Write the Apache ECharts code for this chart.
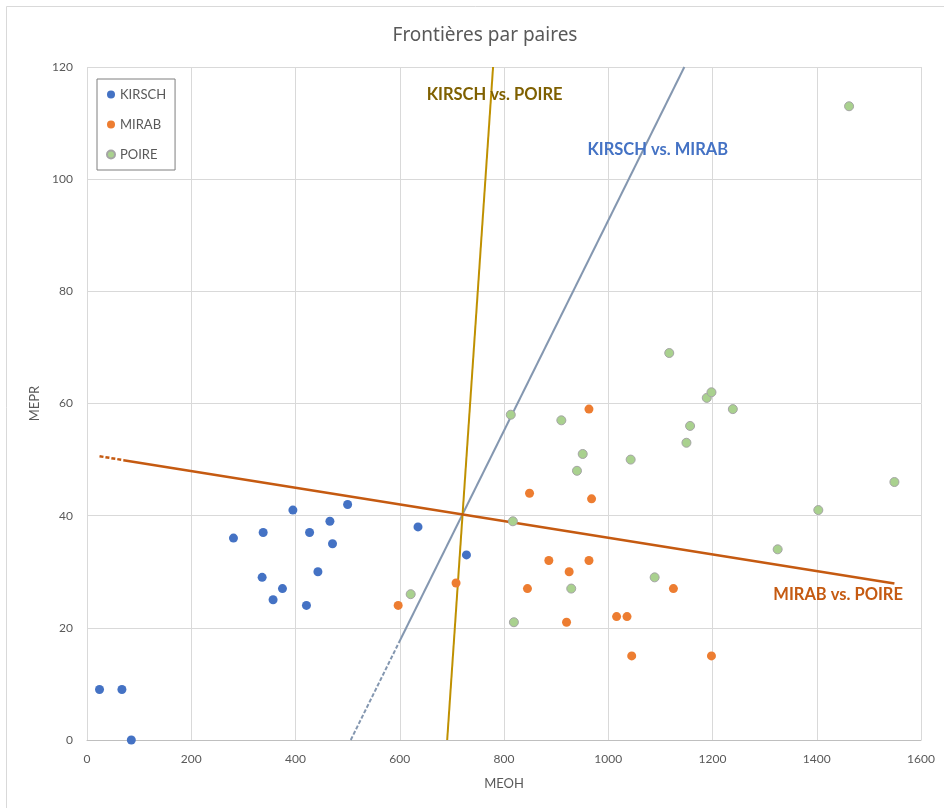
<!DOCTYPE html>
<html>
<head>
<meta charset="utf-8">
<script src="https://cdn.jsdelivr.net/npm/echarts@6/dist/echarts.min.js"></script>
<style>
  html, body { margin: 0; padding: 0; background: #ffffff; }
  #chart { width: 944px; height: 808px; }
</style>
</head>
<body>
<div id="chart"></div>
<script>
// Brandy samples: methanol (MEOH) vs propanol (MEPR) per class
const kirschMEOH = [24, 67, 85, 281, 338, 336, 357, 375, 395, 427, 421, 443, 466, 471, 500, 635, 728];
const kirschMEPR = [9, 9, 0, 36, 37, 29, 25, 27, 41, 37, 24, 30, 39, 35, 42, 38, 33];

const mirabMEOH = [597, 708, 849, 963, 968, 886, 925, 963, 845, 920, 1016, 1036, 1125, 1045, 1198];
const mirabMEPR = [24, 28, 44, 59, 43, 32, 30, 32, 27, 21, 22, 22, 27, 15, 15];

const poireMEOH = [621, 813, 817, 819, 910, 951, 940, 929, 1043, 1089, 1150, 1157, 1189, 1198, 1239, 1549, 1403, 1325, 1117, 1462];
const poireMEPR = [26, 58, 39, 21, 57, 51, 48, 27, 50, 29, 53, 56, 61, 62, 59, 46, 41, 34, 69, 113];

// Pairwise decision frontiers: start, end of the dashed stub, end
const frontierKirschMirab = [[506, 0], [598, 17.3], [1146, 120]];
const frontierKirschPoire = [[691, 0], [779, 120]];
const frontierMirabPoire = [[24, 50.6], [70, 49.9], [1549, 27.9]];

// Frontier captions (anchored in data coordinates)
const frontierNames = ['KIRSCH vs. POIRE', 'KIRSCH vs. MIRAB', 'MIRAB vs. POIRE'];
const captionAnchors = [[782, 115], [1095, 105.2], [1441, 26]];

const xTicks = { min: 0, max: 1600, step: 200 };
const yTicks = { min: 0, max: 120, step: 20 };

const FONT = 'Lato, "Open Sans", sans-serif';
const zip = (xs, ys) => xs.map((x, i) => [x, ys[i]]);

const chart = echarts.init(document.getElementById('chart'), null, { renderer: 'canvas' });

const captionColors = ['#7F6000', '#4472C4', '#C55A11'];

const option = {
  animation: false,
  backgroundColor: '#ffffff',
  title: {
    text: 'Frontières par paires',
    left: 480,
    textAlign: 'center',
    top: 21,
    textStyle: { fontFamily: '"Noto Sans", sans-serif', fontWeight: 'normal', fontSize: 19, color: '#595959' }
  },
  graphic: [{
    type: 'rect',
    shape: { x: 6.5, y: 6.5, width: 1200, height: 1200 },
    style: { fill: 'none', stroke: '#D9D9D9', lineWidth: 1 },
    silent: true,
    z: -10
  }],
  legend: {
    data: ['KIRSCH', 'MIRAB', 'POIRE'],
    orient: 'vertical',
    left: 97,
    top: 79,
    padding: [9, 9, 9, 9],
    itemGap: 17,
    itemWidth: 8,
    itemHeight: 8,
    icon: 'circle',
    selectedMode: false,
    borderColor: '#7F7F7F',
    borderWidth: 1,
    textStyle: { fontFamily: FONT, fontSize: 13, color: '#595959' }
  },
  grid: { left: 87, right: 23, top: 67, bottom: 68 },
  xAxis: {
    type: 'value',
    min: xTicks.min, max: xTicks.max, interval: xTicks.step,
    name: 'MEOH', nameLocation: 'middle', nameGap: 37,
    nameTextStyle: { fontFamily: FONT, fontSize: 13, color: '#595959' },
    axisLine: { show: true, lineStyle: { color: '#BFBFBF', width: 1 } },
    axisTick: { show: false },
    axisLabel: { fontFamily: FONT, fontSize: 12, color: '#595959', margin: 13,
                 formatter: (v) => String(v) },
    splitLine: { show: true, lineStyle: { color: '#D9D9D9', width: 1 } }
  },
  yAxis: {
    type: 'value',
    min: yTicks.min, max: yTicks.max, interval: yTicks.step,
    name: 'MEPR', nameLocation: 'middle', nameGap: 34,
    nameTextStyle: { fontFamily: FONT, fontSize: 13, color: '#595959' },
    axisLine: { show: false },
    axisTick: { show: false },
    axisLabel: { fontFamily: FONT, fontSize: 12, color: '#595959', margin: 14,
                 formatter: (v) => String(v) },
    splitLine: { show: true, lineStyle: { color: '#D9D9D9', width: 1 } }
  },
  series: [
    // frontier KIRSCH / MIRAB: dashed stub then solid
    { type: 'line', symbol: 'none', silent: true, z: 2, data: frontierKirschMirab.slice(0, 2),
      lineStyle: { color: '#8497B0', width: 2, type: [4, 2] } },
    { type: 'line', symbol: 'none', silent: true, z: 2, data: frontierKirschMirab.slice(1),
      lineStyle: { color: '#8497B0', width: 2 } },
    // frontier KIRSCH / POIRE
    { type: 'line', symbol: 'none', silent: true, z: 2, data: frontierKirschPoire,
      lineStyle: { color: '#BF9000', width: 2 } },
    // frontier MIRAB / POIRE: dashed stub then solid
    { type: 'line', symbol: 'none', silent: true, z: 2, data: frontierMirabPoire.slice(0, 2),
      lineStyle: { color: '#C55A11', width: 2.5, type: [4, 2] } },
    { type: 'line', symbol: 'none', silent: true, z: 2, data: frontierMirabPoire.slice(1),
      lineStyle: { color: '#C55A11', width: 2.5 } },
    // samples
    { name: 'KIRSCH', type: 'scatter', z: 5, symbolSize: 9, data: zip(kirschMEOH, kirschMEPR),
      itemStyle: { color: '#4472C4', opacity: 1 } },
    { name: 'MIRAB', type: 'scatter', z: 5, symbolSize: 9, data: zip(mirabMEOH, mirabMEPR),
      itemStyle: { color: '#ED7D31', opacity: 1 } },
    { name: 'POIRE', type: 'scatter', z: 5, symbolSize: 9, data: zip(poireMEOH, poireMEPR),
      itemStyle: { color: '#A9D18E', borderColor: '#A5A5A5', borderWidth: 1, opacity: 1 } },
    // frontier captions
    { type: 'scatter', z: 6, silent: true, symbolSize: 0,
      itemStyle: { opacity: 1 },
      data: captionAnchors.map((c, i) => ({
        value: c,
        label: { show: true, position: 'inside', formatter: frontierNames[i],
                 color: captionColors[i], opacity: 1, fontFamily: FONT, fontWeight: 'bold', fontSize: 16.5 }
      })) }
  ]
};

chart.setOption(option);
</script>
</body>
</html>
